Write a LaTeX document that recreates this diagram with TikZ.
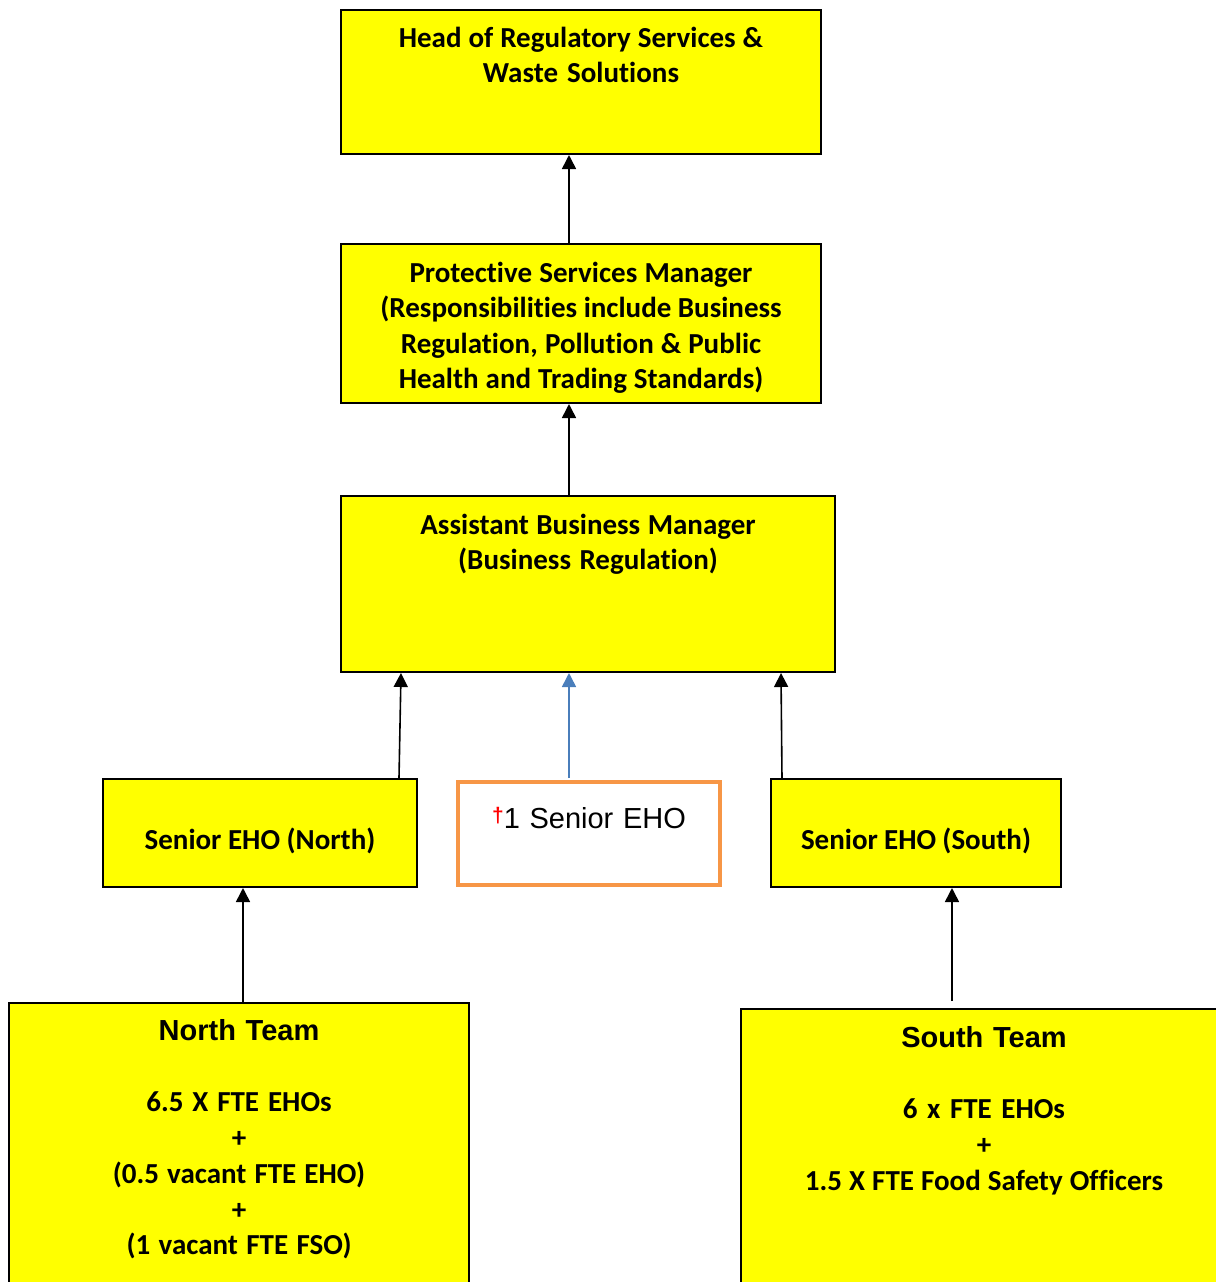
\documentclass[tikz,border=0pt]{standalone}
\usepackage{fontspec}
\setmainfont{Carlito}[Ligatures=NoCommon]
\newfontfamily\arialf{Liberation Sans}
\usetikzlibrary{arrows.meta,calc}
\definecolor{boxyellow}{HTML}{FFFF00}
\definecolor{boxorange}{HTML}{F79646}
\definecolor{arrowblue}{HTML}{4A7EBB}
\newcommand\tightsp{\spaceskip=0.19em plus 0.05em\relax}
\begin{document}
\begin{tikzpicture}[x=0.5pt,y=-0.5pt,
  ybox/.style={draw=black,line width=1pt,fill=boxyellow,inner sep=0pt,rectangle},
  obox/.style={draw=boxorange,line width=2pt,fill=white,inner sep=0pt,rectangle},
  txt/.style={font=\bfseries\fontsize{14.5}{17.75}\selectfont,align=center,inner sep=0pt,anchor=base},
  arr/.style={line width=0.8pt,-{Triangle[width=7pt,length=7pt]}},
  barr/.style={line width=0.8pt,draw=arrowblue,-{Triangle[width=7pt,length=7pt,fill=arrowblue]}}]
\useasboundingbox (0,0) rectangle (1216,1282);
\begin{scope}
\clip (0,0) rectangle (1216,1282);
% boxes
\node[ybox,minimum width=240pt,minimum height=72pt] (head) at (581,82) {};
\node[ybox,minimum width=240pt,minimum height=79.5pt] (psm) at (581,323.5) {};
\node[ybox,minimum width=247pt,minimum height=88pt] (abm) at (588,584) {};
\node[ybox,minimum width=157pt,minimum height=54pt] (sn) at (260,833) {};
\node[obox,minimum width=131pt,minimum height=51.5pt] (mid) at (589,833.5) {};
\node[ybox,minimum width=145pt,minimum height=54pt] (ss) at (916,833) {};
\node[ybox,minimum width=230pt,minimum height=143.5pt] (nt) at (239,1146.5) {};
\node[ybox,minimum width=243pt,minimum height=140.5pt] (st) at (984,1149.5) {};
\end{scope}
% texts
\node[txt,text width=240pt] (headT) at (581,47) {\tightsp Head of Regulatory Services \&\\Waste Solutions};
\node[txt,text width=240pt] (psmT) at (581,282) {\tightsp Protective Services Manager\\(Responsibilities include Business\\Regulation, Pollution \& Public\\Health and Trading Standards)};
\node[txt,text width=247pt] (abmT) at (588,534) {\tightsp Assistant Business Manager\\(Business Regulation)};
\node[txt,text width=157pt] (snT) at (260,849) {\tightsp Senior EHO (North)};
\node[txt,text width=131pt,font=\arialf\fontsize{14.5}{17.9}\selectfont] (midT) at (589,828) {{\color{red}\raisebox{3pt}{\fontsize{10.5}{12}\selectfont\bfseries †}}1 Senior EHO};
\node[txt,text width=145pt] (ssT) at (916,849) {\tightsp Senior EHO (South)};
\node[txt,text width=230pt,font=\bfseries\fontsize{14.5}{17.9}\selectfont] (ntT) at (239,1040) {{\arialf\fontsize{14.5}{17.9}\selectfont\bfseries North Team}\\[17.9pt]\tightsp 6.5 X FTE EHOs\\+\\(0.5 vacant FTE EHO)\\+\\(1 vacant FTE FSO)};
\node[txt,text width=243pt,font=\bfseries\fontsize{14.5}{17.9}\selectfont] (stT) at (984,1047) {{\arialf\fontsize{14.5}{17.9}\selectfont\bfseries South Team}\\[17.9pt]\tightsp 6 x FTE EHOs\\+\\1.5 X FTE Food Safety Officers};
% connectors
\coordinate (stTop) at (952,1001);
\draw[arr] ($(psm.north)+(-12,0)$) -- ($(head.south)+(-12,0)$);
\draw[arr] ($(abm.north)+(-19,0)$) -- ($(psm.south)+(-12,0)$);
\draw[arr] ($(sn.north)+(139,0)$) -- ($(abm.south)+(-187,0)$);
\draw[barr] ($(mid.north)+(-20,-2)$) -- ($(abm.south)+(-19,0)$);
\draw[arr] ($(ss.north)+(-134,0)$) -- ($(abm.south)+(193,0)$);
\draw[arr] ($(nt.north)+(4,0)$) -- ($(sn.south)+(-17,0)$);
\draw[arr] (stTop) -- ($(ss.south)+(36,0)$);
\end{tikzpicture}
\end{document}
